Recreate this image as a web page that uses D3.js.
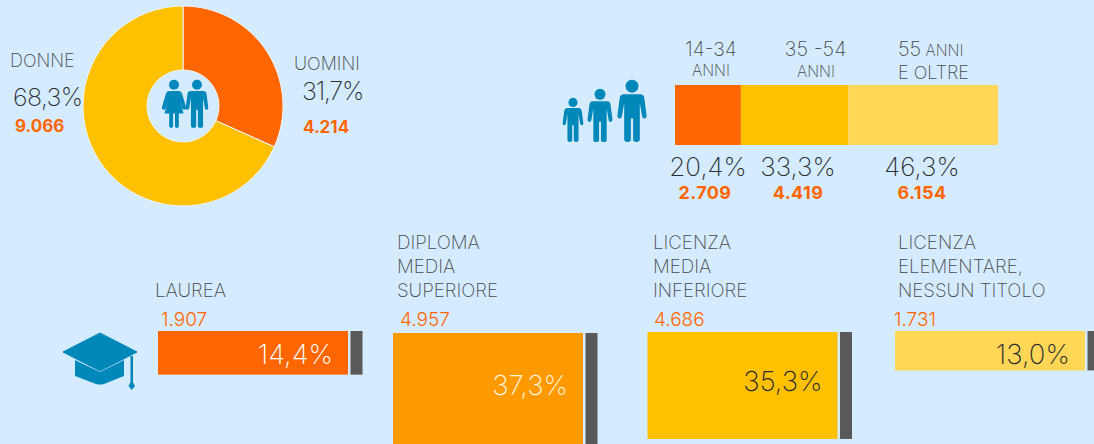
<!DOCTYPE html>
<html>
<head>
<meta charset="utf-8">
<script src="https://cdn.jsdelivr.net/npm/d3@7"></script>
<style>
  html, body { margin: 0; padding: 0; background: #d5ebff; overflow: hidden; }
  text { font-family: Inter, "Open Sans", sans-serif; }
</style>
</head>
<body>
<script>
var w = 1094;
var h = 444;

// gender
var genderLabels = ["UOMINI", "DONNE"];
var genderPct = [31.7, 68.3];
var genderCount = ["4.214", "9.066"];

// age
var ageLabels = ["14-34", "35 -54", "55"];
var agePct = [20.4, 33.3, 46.3];
var ageCount = ["2.709", "4.419", "6.154"];

// education
var eduLabels = [["LAUREA"], ["DIPLOMA", "MEDIA", "SUPERIORE"], ["LICENZA", "MEDIA", "INFERIORE"], ["LICENZA", "ELEMENTARE,", "NESSUN TITOLO"]];
var eduPct = [14.4, 37.3, 35.3, 13.0];
var eduCount = ["1.907", "4.957", "4.686", "1.731"];

var orange = "#ff6600", amber = "#ffc000", pale = "#ffd655", deep = "#ff9900";
var ink = "#2a2d31", label = "#45494d", blue = "#0088bb", grey = "#595959";

var fmt = function (d) { return d.toFixed(1).replace(".", ",") + "%"; };

var svg = d3.select("body").append("svg").attr("width", w).attr("height", h).style("display", "block");

function put(x, y, txt, size, fill, weight, anchor) {
    return svg.append("text").attr("x", x).attr("y", y).text(txt)
        .attr("font-size", size).attr("fill", fill)
        .attr("font-weight", weight || 300)
        .attr("text-anchor", anchor || "start");
}

// simple pictograms, cx = centre, y0 = top, s = full height
function man(cx, y0, s) {
    var g = svg.append("g").attr("transform", "translate(" + cx + "," + y0 + ") scale(" + (s / 100 * 0.9) + "," + s / 100 + ")").attr("fill", blue);
    g.append("ellipse").attr("cy", 10).attr("rx", 11.5).attr("ry", 10.5);
    g.append("path").attr("d", "M-15 23 H15 Q21 23 22 29 L26 56 Q27 61 23 62 Q19 63 18 58 L14 37 V96 Q14 100 8 100 Q2 100 2 96 V62 H-2 V96 Q-2 100 -8 100 Q-14 100 -14 96 V37 L-18 58 Q-19 63 -23 62 Q-27 61 -26 56 L-22 29 Q-21 23 -15 23 Z");
}
function woman(cx, y0, s) {
    var g = svg.append("g").attr("transform", "translate(" + cx + "," + y0 + ") scale(" + s / 100 + ")").attr("fill", blue);
    g.append("circle").attr("cy", 10).attr("r", 10.5);
    g.append("path").attr("d", "M-11 23 H11 Q15 23 17 29 L25 56 Q26 61 22 62 Q18 63 17 58 L12 42 L20 70 H10 V96 Q10 100 6 100 Q2 100 2 96 V70 H-2 V96 Q-2 100 -6 100 Q-10 100 -10 96 V70 H-20 L-12 42 L-17 58 Q-18 63 -22 62 Q-26 61 -25 56 L-17 29 Q-15 23 -11 23 Z");
}

// donut
var pie = d3.pie().sort(null)(genderPct);
var arc = d3.arc().innerRadius(36).outerRadius(100);
var donut = svg.append("g").attr("transform", "translate(183,106)");
donut.selectAll("path").data(pie).enter().append("path")
    .attr("d", arc)
    .attr("fill", function (d, i) { return i == 0 ? orange : amber; })
    .attr("stroke", "#eef6fb").attr("stroke-width", 1);

woman(174, 80, 48);
man(197, 80, 48);

put(294, 70, genderLabels[0], 18, label, 250);
put(302, 100, fmt(genderPct[0]), 25, ink, 250).attr("letter-spacing", -1.2);
put(303, 133, genderCount[0], 17, orange, 700);
put(10, 67, genderLabels[1], 18, label, 250);
put(13, 106, fmt(genderPct[1]), 25, ink, 250).attr("letter-spacing", -0.6);
put(15, 132, genderCount[1], 17, orange, 700);

// age stacked bar
var ageX = d3.scaleLinear().domain([0, 100]).range([675, 998]);
var ageStart = d3.cumsum([0].concat(agePct));
var ageColors = [orange, amber, pale];
svg.selectAll("rect.age").data(agePct).enter().append("rect")
    .attr("class", "age")
    .attr("x", function (d, i) { return ageX(ageStart[i]); })
    .attr("y", 85)
    .attr("width", function (d, i) { return ageX(ageStart[i] + d) - ageX(ageStart[i]); })
    .attr("height", 60)
    .attr("fill", function (d, i) { return ageColors[i]; });

man(573, 98, 44);
man(600, 89, 53);
man(632, 80, 62);

var agePctX = [708, 798, 922];
var ageCountX = [705, 798, 922];
agePct.forEach(function (d, i) {
    put(agePctX[i], 175.5, fmt(d), 26, ink, 250, "middle");
    put(ageCountX[i], 198.5, ageCount[i], 18, orange, 700, "middle").attr("letter-spacing", 0.4);
});
put(711, 56, ageLabels[0], 19.5, label, 250, "middle");
put(711, 76, "ANNI", 15.5, label, 250, "middle");
put(815.5, 56, ageLabels[1], 20, label, 250, "middle");
put(816, 77, "ANNI", 15.5, label, 250, "middle");
var t55 = put(898, 56, ageLabels[2], 20, label, 250);
t55.append("tspan").attr("font-size", 15.5).text(" ANNI");
put(898, 79, "E OLTRE", 18, label, 250);

// education bars
var eduH = d3.scaleLinear().domain([0, 100]).range([0, 303]);
var eduX = [158, 393, 647.5, 895];
var eduTop = [331, 333, 332, 331];
var eduTextX = [155, 397, 653, 898];
var eduCountX = [161, 400, 654, 894];
var eduPctY = [364, 395, 391, 364];
var eduColors = [orange, deep, amber, pale];
var eduTextColors = ["#ffffff", "#fff4dc", ink, ink];
var barW = 190, stubW = 12, gap = 2.5;

svg.selectAll("rect.edu").data(eduPct).enter().append("rect")
    .attr("class", "edu")
    .attr("x", function (d, i) { return eduX[i]; })
    .attr("y", function (d, i) { return eduTop[i]; })
    .attr("width", barW)
    .attr("height", function (d) { return eduH(d); })
    .attr("fill", function (d, i) { return eduColors[i]; });

svg.selectAll("rect.stub").data(eduPct).enter().append("rect")
    .attr("class", "stub")
    .attr("x", function (d, i) { return eduX[i] + barW + gap; })
    .attr("y", function (d, i) { return eduTop[i]; })
    .attr("width", stubW)
    .attr("height", function (d) { return eduH(d); })
    .attr("fill", grey);

eduPct.forEach(function (d, i) {
    put(eduX[i] + barW - 15, eduPctY[i], fmt(d), 27.5, eduTextColors[i], 250, "end");
    put(eduCountX[i], 325.5, eduCount[i], 19, orange, 300);
    var lines = eduLabels[i];
    lines.forEach(function (s, j) {
        put(eduTextX[i], 297 - (lines.length - 1 - j) * 24, s, 18.7, label, 250);
    });
});

// graduation cap
var cap = svg.append("g").attr("fill", blue);
cap.append("path").attr("d", "M75 360 L100 372 L124 360 V376 L104 384 Q100 385 96 384 L75 376 Z");
cap.append("path").attr("d", "M100 333 L137 352 L100 371 L63 352 Z").attr("stroke", blue).attr("stroke-linejoin", "round");
cap.append("rect").attr("x", 130.5).attr("y", 356).attr("width", 2.5).attr("height", 27);
cap.append("path").attr("d", "M131.7 380 L135 386 L131.7 390 L128.5 386 Z");
</script>
</body>
</html>
